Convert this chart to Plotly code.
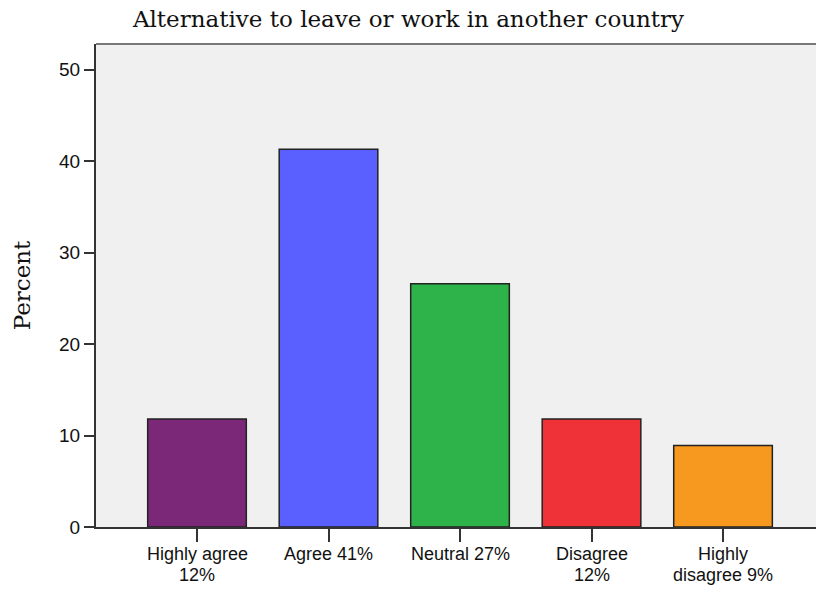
import plotly.graph_objects as go

line1 = ["Highly agree", "Agree 41%", "Neutral 27%", "Disagree", "Highly"]
line2 = ["12%", "", "", "12%", "disagree 9%"]
values = [11.8, 41.3, 26.6, 11.8, 8.9]
colors = ["#7B2879", "#5A5FFF", "#2EB34A", "#EF3238", "#F7981F"]
y_ticks = [0, 10, 20, 30, 40, 50]

xs = list(range(len(values)))
fig = go.Figure()
fig.add_trace(go.Bar(
    x=xs, y=values,
    marker=dict(color=colors, line=dict(color="#222222", width=1.5)),
    width=0.75,
))

lab_font = dict(family="Liberation Sans", size=18, color="#111111")
annotations = []
for i, (a, b) in enumerate(zip(line1, line2)):
    annotations.append(dict(x=i, y=0, xref="x", yref="paper", text=a, showarrow=False,
                            xanchor="center", yanchor="middle", yshift=-27, font=lab_font))
    if b:
        annotations.append(dict(x=i, y=0, xref="x", yref="paper", text=b, showarrow=False,
                                xanchor="center", yanchor="middle", yshift=-48, font=lab_font))

fig.update_layout(
    width=817, height=592,
    margin=dict(l=96, r=1, t=44, b=65),
    paper_bgcolor="white", plot_bgcolor="#F0F0F0",
    showlegend=False,
    annotations=annotations,
    title=dict(text="Alternative to leave or work in another country",
               x=0.5, xanchor="center", xref="container", y=1 - 19 / 592, yanchor="middle",
               font=dict(family="DejaVu Serif", size=23, color="#111111")),
    xaxis=dict(range=[-0.768, 4.707], tickvals=xs, showticklabels=False,
               showgrid=False, zeroline=False,
               showline=True, linecolor="#333333", linewidth=2,
               ticks="outside", ticklen=13, tickwidth=2, tickcolor="#333333"),
    yaxis=dict(range=[0, 52.8], tickvals=y_ticks, showgrid=False, zeroline=False,
               showline=True, linecolor="#333333", linewidth=2,
               ticks="outside", ticklen=10, tickwidth=2, tickcolor="#333333",
               tickfont=dict(family="Liberation Sans", size=19, color="#111111"),
               title=dict(text="Percent", standoff=22,
                          font=dict(family="DejaVu Serif", size=23, color="#111111"))),
)
fig.add_shape(type="line", xref="paper", yref="paper", x0=0, x1=1, y0=1, y1=1,
              line=dict(color="#777777", width=2))
fig.write_html("out.html", config={"displayModeBar": False},
               post_script="document.body.style.margin='0';")
